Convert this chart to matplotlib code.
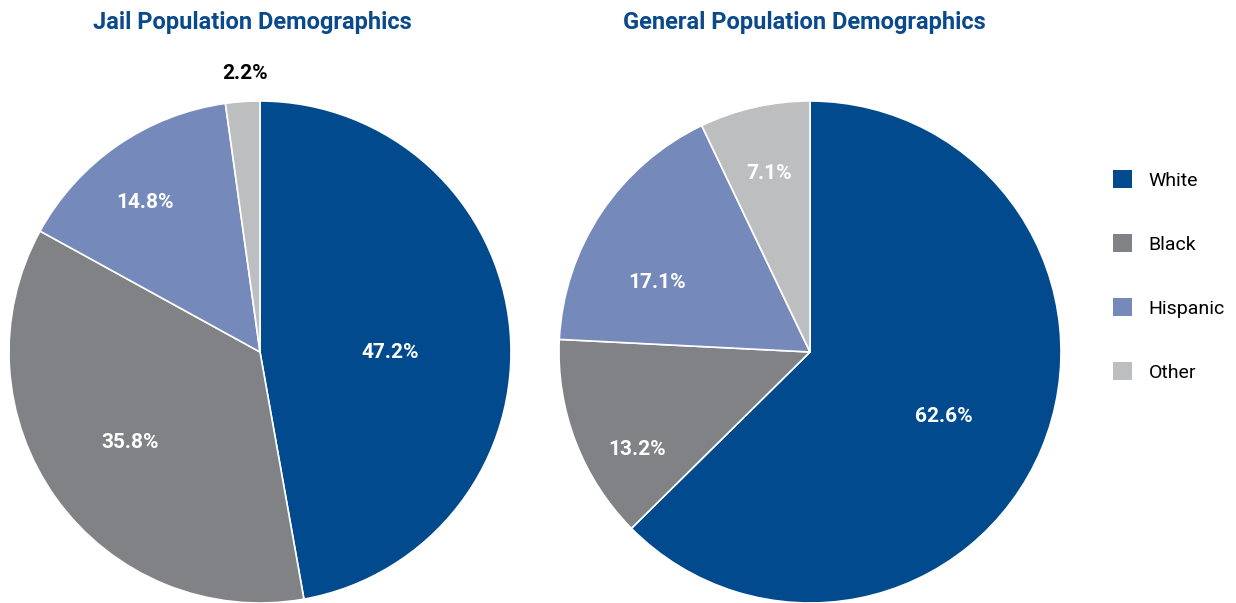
import matplotlib
matplotlib.use("Agg")
import matplotlib.pyplot as plt
import numpy as np
from matplotlib.patches import Patch

# data
groups = ["White", "Black", "Hispanic", "Other"]
jail_pct = [47.2, 35.8, 14.8, 2.2]
general_pct = [62.6, 13.2, 17.1, 7.1]
titles = ["Jail Population Demographics", "General Population Demographics"]

colors = ["#004a8d", "#808285", "#758abb", "#bcbec0"]
title_color = "#0a4a8c"
FONT = ["Roboto", "DejaVu Sans"]

# label placement (angle in degrees, distance as fraction of radius), per chart
label_ang = [[0, -145, 127.5, 93.1], [-25.7, -150.5, 155.7, 103]]
label_dist = [[0.52, 0.63, 0.75, 1.11], [0.59, 0.79, 0.67, 0.73]]
label_color = [["white", "white", "white", "black"], ["white"] * 4]

W, H = 1236, 603
fig = plt.figure(figsize=(W / 100, H / 100), dpi=100)

centers = [(260, 352), (810, 352)]
r = 251


def draw_pie(ax, values, angs, dists, lcolors):
    ax.pie(
        values,
        colors=colors,
        startangle=90,
        counterclock=False,
        radius=1,
        wedgeprops=dict(edgecolor="white", linewidth=1.2),
    )
    for v, a, d, c in zip(values, angs, dists, lcolors):
        a = np.deg2rad(a)
        ax.text(
            d * np.cos(a),
            d * np.sin(a),
            f"{v:.1f}%",
            ha="center",
            va="center",
            color=c,
            fontsize=15,
            fontweight="bold",
            family=FONT,
        )
    ax.set_xlim(-1, 1)
    ax.set_ylim(-1, 1)
    ax.set_aspect("equal")
    ax.axis("off")


for i, vals in enumerate([jail_pct, general_pct]):
    cx, cy = centers[i]
    ax = fig.add_axes(
        [(cx - r) / W, (H - cy - r) / H, 2 * r / W, 2 * r / H]
    )
    draw_pie(ax, vals, label_ang[i], label_dist[i], label_color[i])
    ax.patch.set_alpha(0)

# titles
fig.text(252 / W, 1 - 22 / H, titles[0], ha="center", va="center",
         color=title_color, fontsize=17, fontweight="bold", family=FONT)
fig.text(804 / W, 1 - 22 / H, titles[1], ha="center", va="center",
         color=title_color, fontsize=17, fontweight="bold", family=FONT)

# legend
handles = [Patch(facecolor=c, edgecolor="none", label=g) for c, g in zip(colors, groups)]
fig.legend(
    handles=handles,
    loc="center left",
    bbox_to_anchor=(1095 / W, 1 - 276 / H),
    frameon=False,
    handlelength=1.0,
    handleheight=1.0,
    handletextpad=0.85,
    labelspacing=2.3,
    prop=dict(family=FONT, size=14),
)

fig.savefig("out.png", dpi=100)
